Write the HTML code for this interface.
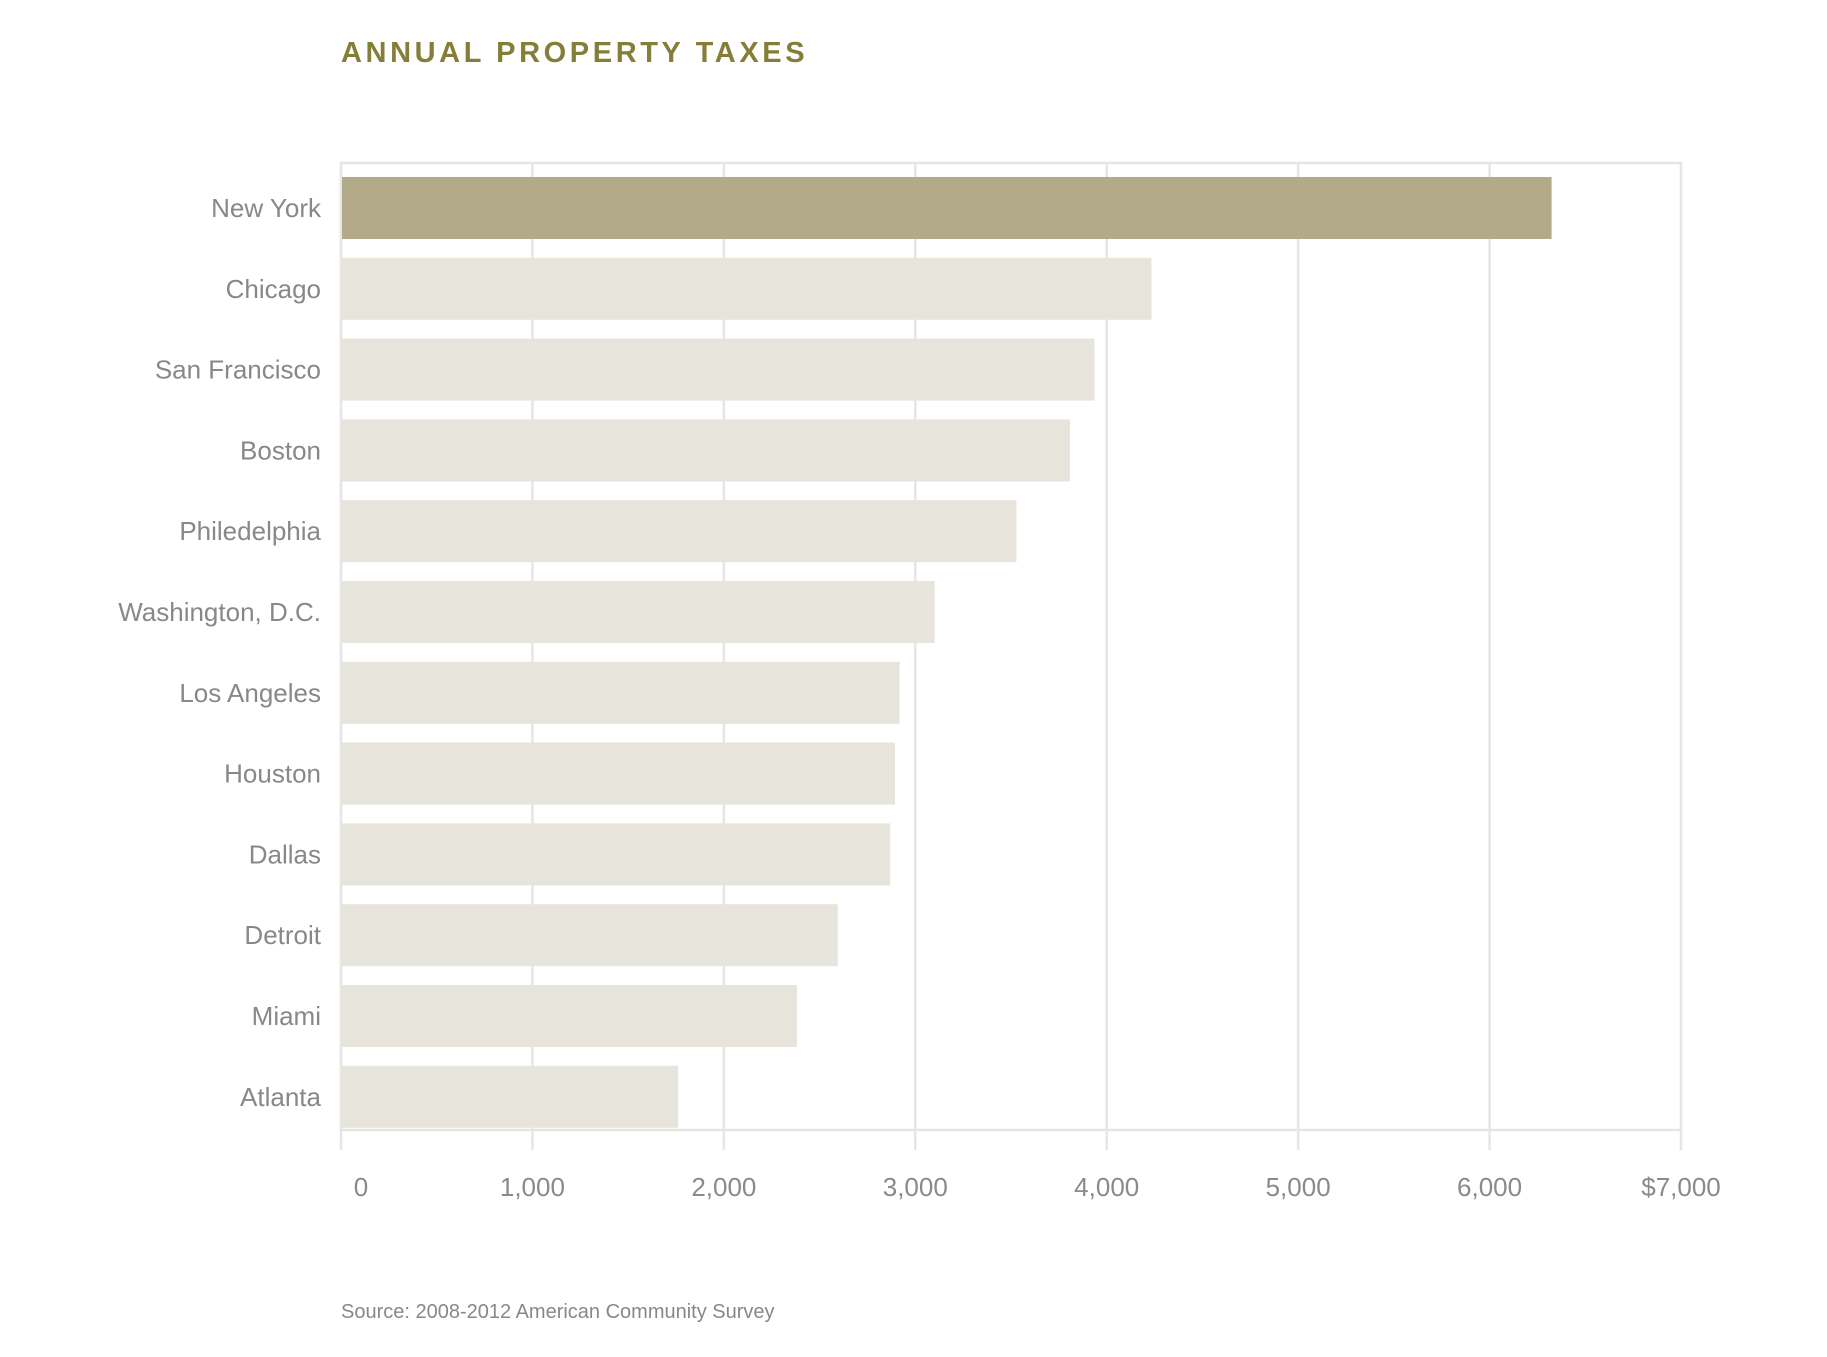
<!DOCTYPE html>
<html><head><meta charset="utf-8"><style>
body{margin:0;background:#fff;width:1827px;height:1352px;overflow:hidden;font-family:"Liberation Sans",sans-serif}
</style></head><body>
<svg id="chart" width="1827" height="1352" xmlns="http://www.w3.org/2000/svg">
<text x="341" y="62" font-family="Liberation Sans, sans-serif" font-weight="bold" font-size="29" letter-spacing="3.6" fill="#857e38">ANNUAL PROPERTY TAXES</text>
<g id="grid"></g>
<g id="bars"></g>
<g id="labels"></g>
<g id="ticks"></g>
<text x="341" y="1318" font-size="20" fill="#888" font-family="Liberation Sans, sans-serif">Source: 2008-2012 American Community Survey</text>
</svg>
<script>
const categories = ["New York","Chicago","San Francisco","Boston","Philedelphia","Washington, D.C.","Los Angeles","Houston","Dallas","Detroit","Miami","Atlanta"];
const values = [6324,4234,3936,3808,3528,3101,2918,2894,2869,2595,2382,1761];
const tickValues = [0,1000,2000,3000,4000,5000,6000,7000];
const tickLabels = ["0","1,000","2,000","3,000","4,000","5,000","6,000","$7,000"];

const NS="http://www.w3.org/2000/svg";
const plotLeft=341, plotRight=1681, plotTop=163, plotBottom=1130, maxV=7000;
const xScale=v=>plotLeft+(v/maxV)*(plotRight-plotLeft);
const pitch=80.8, barTop0=177, barH=62;
const yScale=i=>barTop0+i*pitch;
function mk(tag,attrs,parent){const e=document.createElementNS(NS,tag);for(const k in attrs)e.setAttribute(k,attrs[k]);document.getElementById(parent).appendChild(e);return e;}

const fr=mk('rect',{x:plotLeft,y:plotTop,width:plotRight-plotLeft,height:plotBottom-plotTop,fill:'none',stroke:'#e6e6e6','stroke-width':2.5},'grid');



tickValues.forEach((v,i)=>{
  const gl=mk('line',{x1:xScale(v),x2:xScale(v),y1:plotTop,y2:1150,stroke:'#e6e6e6','stroke-width':2.5},'grid');
  
  
  const t=mk('text',{x:i===0?xScale(v)+20:xScale(v),y:1196,'text-anchor':'middle','font-size':26,fill:'#8a8a8a','font-family':'Liberation Sans, sans-serif'},'ticks');
  t.textContent=tickLabels[i];
  
  
});

categories.forEach((c,i)=>{
  const r=mk('rect',{x:plotLeft+1,y:yScale(i),width:xScale(values[i])-plotLeft-1,height:barH,fill:i===0?'#b3aa8a':'#e7e4dc'},'bars');
  
  
  const t=mk('text',{x:321,y:yScale(i)+barH/2+9,'text-anchor':'end','font-size':26,fill:'#888','font-family':'Liberation Sans, sans-serif'},'labels');
  t.textContent=c;
  
  
});
</script>
</body></html>
